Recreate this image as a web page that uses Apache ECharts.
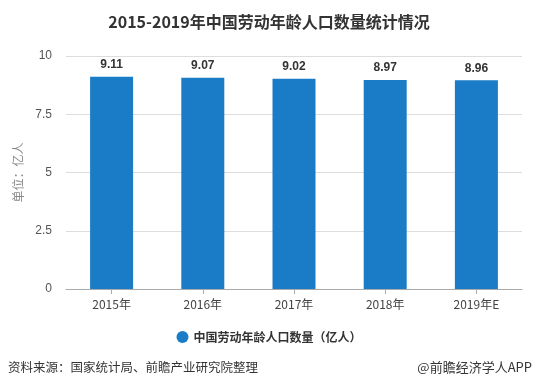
<!DOCTYPE html>
<html><head><meta charset="utf-8">
<script src="https://cdn.jsdelivr.net/npm/echarts@6/dist/echarts.min.js"></script>
<style>html,body{margin:0;padding:0;background:#fff}#c{width:538px;height:390px}</style>
</head><body><div id="c"></div>
<script>
const categories = ['2015年','2016年','2017年','2018年','2019年E'];
const values = [9.11, 9.07, 9.02, 8.97, 8.96];
const yTicks = [0, 2.5, 5, 7.5, 10];
const seriesName = '中国劳动年龄人口数量（亿人）';
const chart = echarts.init(document.getElementById('c'));
chart.setOption({
  backgroundColor:'#fff',
  animation:false,
  title:{text:'2015-2019年中国劳动年龄人口数量统计情况',left:'center',top:9,
    textStyle:{fontSize:16,fontWeight:'bold',color:'#333',fontFamily:'Noto Sans CJK SC'}},
  grid:{left:66,right:16,top:56,bottom:101},
  legend:{bottom:42,left:'center',icon:'circle',itemWidth:12,itemHeight:12,
    textStyle:{fontSize:12,color:'#333',fontWeight:'bold',fontFamily:'Noto Sans CJK SC'},data:[seriesName]},
  xAxis:{type:'category',data:categories,
    axisLine:{lineStyle:{color:'#aaa'}},axisTick:{show:true,alignWithLabel:true,lineStyle:{color:'#aaa'}},
    axisLabel:{color:'#444',fontSize:12,margin:9,fontFamily:'Noto Sans CJK SC'}},
  yAxis:{type:'value',min:yTicks[0],max:yTicks[yTicks.length-1],interval:2.5,
    name:'单位：亿人',nameLocation:'middle',nameGap:36,nameRotate:90,
    nameTextStyle:{color:'#888',fontSize:12,fontFamily:'Noto Sans CJK SC'},
    axisLine:{show:false},axisTick:{show:false},
    axisLabel:{color:'#555',fontSize:12,margin:14},
    splitLine:{lineStyle:{color:'#ddd'}}},
  series:[{name:seriesName,type:'bar',data:values,barWidth:43,
    itemStyle:{color:'#1a7bc6'},
    label:{show:true,position:'top',distance:6,fontWeight:'bold',fontSize:12,color:'#333',
      formatter:p=>p.value.toFixed(2)}}],
  graphic:[
    {type:'text',left:8,top:361,style:{text:'资料来源：国家统计局、前瞻产业研究院整理',fontSize:12.5,fill:'#333',fontFamily:'Noto Sans CJK SC'}},
    {type:'text',right:6,top:361,style:{text:'@前瞻经济学人APP',fontSize:13,fill:'#333',fontFamily:'Noto Sans CJK SC'}}
  ]
});
</script></body></html>
